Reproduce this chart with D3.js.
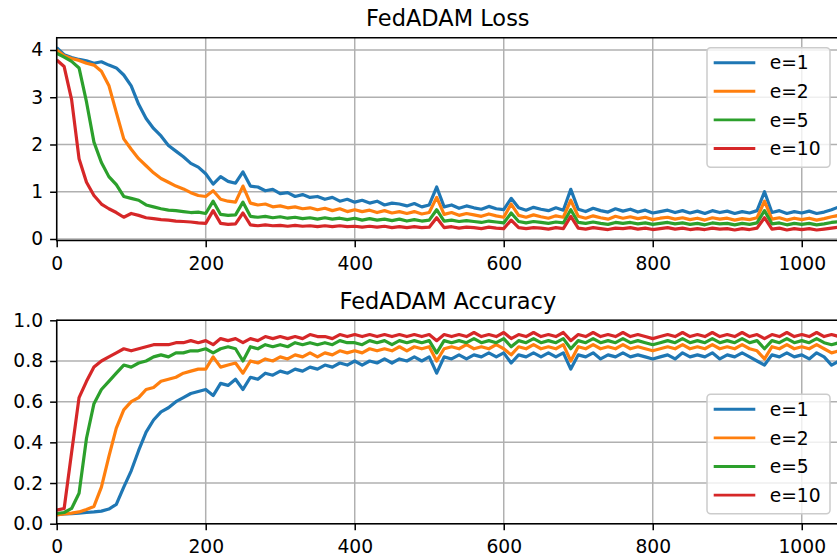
<!DOCTYPE html>
<html>
<head>
<meta charset="utf-8">
<script src="https://d3js.org/d3.v7.min.js"></script>
<style>
  body { margin: 0; background: white; }
  text { font-family: "DejaVu Sans", sans-serif; fill: black; }
</style>
</head>
<body>
<svg width="837" height="560"></svg>
<script>
// communication rounds (x)
const rounds = [0,10,20,30,40,50,60,70,80,90,
  100,110,120,130,140,150,160,170,180,190,
  200,210,220,230,240,250,260,270,280,290,
  300,310,320,330,340,350,360,370,380,390,
  400,410,420,430,440,450,460,470,480,490,
  500,510,520,530,540,550,560,570,580,590,
  600,610,620,630,640,650,660,670,680,690,
  700,710,720,730,740,750,760,770,780,790,
  800,810,820,830,840,850,860,870,880,890,
  900,910,920,930,940,950,960,970,980,990,
  1000,1010,1020,1030,1040,1050];

const seriesNames = ["e=1", "e=2", "e=5", "e=10"];
const seriesColors = ["#1f77b4", "#ff7f0e", "#2ca02c", "#d62728"];

// loss values
const lossE1 = [4.05,3.90,3.84,3.80,3.77,3.72,3.75,3.68,3.62,3.47,
  3.24,2.85,2.55,2.34,2.18,1.98,1.86,1.74,1.60,1.52,
  1.38,1.16,1.32,1.22,1.18,1.42,1.12,1.10,1.02,1.05,
  0.96,0.98,0.90,0.94,0.88,0.90,0.84,0.88,0.80,0.84,
  0.78,0.82,0.76,0.80,0.72,0.76,0.74,0.70,0.75,0.68,
  0.72,1.10,0.68,0.72,0.65,0.70,0.66,0.63,0.69,0.64,
  0.62,0.86,0.66,0.61,0.67,0.63,0.60,0.66,0.61,1.05,
  0.63,0.58,0.65,0.60,0.57,0.64,0.59,0.63,0.57,0.61,
  0.55,0.58,0.61,0.56,0.60,0.55,0.59,0.54,0.60,0.56,
  0.59,0.54,0.58,0.55,0.60,1.00,0.56,0.60,0.54,0.58,
  0.55,0.59,0.54,0.57,0.62,0.68];
const lossE2 = [4.00,3.88,3.82,3.78,3.72,3.68,3.55,3.25,2.68,2.12,
  1.90,1.70,1.55,1.40,1.28,1.20,1.12,1.06,0.98,0.92,
  0.90,1.02,0.84,0.80,0.78,1.12,0.76,0.72,0.74,0.68,
  0.70,0.66,0.68,0.64,0.66,0.62,0.65,0.60,0.64,0.58,
  0.62,0.58,0.61,0.56,0.60,0.55,0.58,0.54,0.58,0.53,
  0.56,0.88,0.52,0.56,0.50,0.54,0.51,0.48,0.53,0.49,
  0.46,0.74,0.50,0.46,0.51,0.47,0.44,0.49,0.46,0.82,
  0.48,0.44,0.49,0.45,0.42,0.48,0.44,0.47,0.43,0.46,
  0.41,0.44,0.46,0.42,0.45,0.41,0.44,0.40,0.45,0.42,
  0.44,0.40,0.43,0.41,0.45,0.80,0.42,0.45,0.40,0.44,
  0.41,0.44,0.40,0.43,0.47,0.50];
const lossE5 = [3.93,3.85,3.76,3.62,2.90,2.05,1.62,1.32,1.15,0.90,
  0.86,0.82,0.72,0.68,0.64,0.61,0.60,0.58,0.56,0.57,
  0.54,0.80,0.52,0.50,0.51,0.78,0.48,0.46,0.48,0.45,
  0.47,0.44,0.46,0.43,0.45,0.42,0.45,0.42,0.44,0.41,
  0.44,0.40,0.43,0.40,0.42,0.39,0.42,0.38,0.41,0.38,
  0.40,0.62,0.38,0.40,0.37,0.39,0.37,0.35,0.38,0.36,
  0.34,0.55,0.37,0.34,0.37,0.35,0.33,0.36,0.34,0.62,
  0.35,0.33,0.36,0.33,0.31,0.35,0.33,0.35,0.32,0.34,
  0.31,0.33,0.35,0.32,0.34,0.31,0.33,0.30,0.34,0.32,
  0.33,0.30,0.33,0.31,0.34,0.60,0.32,0.34,0.30,0.33,
  0.31,0.33,0.30,0.32,0.35,0.37];
const lossE10 = [3.79,3.65,2.95,1.70,1.20,0.92,0.74,0.64,0.56,0.46,
  0.54,0.50,0.45,0.43,0.41,0.40,0.38,0.37,0.36,0.34,
  0.33,0.60,0.33,0.31,0.32,0.55,0.30,0.28,0.30,0.28,
  0.29,0.27,0.29,0.27,0.28,0.26,0.28,0.26,0.28,0.26,
  0.27,0.25,0.27,0.25,0.27,0.24,0.26,0.24,0.26,0.24,
  0.25,0.45,0.24,0.26,0.23,0.25,0.24,0.22,0.25,0.23,
  0.22,0.40,0.24,0.22,0.24,0.23,0.21,0.24,0.22,0.48,
  0.23,0.21,0.24,0.22,0.20,0.23,0.22,0.24,0.21,0.23,
  0.20,0.22,0.24,0.21,0.23,0.20,0.22,0.20,0.23,0.21,
  0.22,0.19,0.22,0.20,0.23,0.45,0.21,0.23,0.19,0.22,
  0.20,0.22,0.19,0.21,0.23,0.25];

// accuracy values
const accE1 = [0.045,0.048,0.050,0.052,0.055,0.058,0.062,0.072,0.095,0.18,
  0.26,0.36,0.45,0.51,0.55,0.57,0.60,0.62,0.64,0.65,
  0.66,0.63,0.69,0.68,0.71,0.66,0.72,0.71,0.74,0.73,
  0.75,0.74,0.76,0.75,0.77,0.76,0.78,0.77,0.79,0.78,
  0.80,0.78,0.80,0.79,0.81,0.79,0.81,0.80,0.82,0.80,
  0.82,0.74,0.82,0.81,0.83,0.81,0.83,0.82,0.84,0.82,
  0.84,0.79,0.83,0.82,0.84,0.82,0.84,0.82,0.84,0.76,
  0.83,0.82,0.84,0.81,0.83,0.82,0.84,0.82,0.83,0.82,
  0.81,0.82,0.83,0.81,0.84,0.82,0.83,0.82,0.84,0.81,
  0.83,0.82,0.84,0.82,0.80,0.78,0.83,0.82,0.84,0.82,
  0.83,0.81,0.84,0.82,0.78,0.80];
const accE2 = [0.043,0.048,0.052,0.058,0.070,0.085,0.18,0.33,0.47,0.56,
  0.60,0.62,0.66,0.67,0.70,0.71,0.72,0.74,0.75,0.76,
  0.76,0.82,0.77,0.78,0.79,0.74,0.80,0.79,0.81,0.80,
  0.82,0.81,0.83,0.82,0.84,0.82,0.84,0.83,0.85,0.84,
  0.85,0.84,0.86,0.85,0.86,0.85,0.87,0.85,0.87,0.86,
  0.87,0.80,0.86,0.87,0.86,0.88,0.86,0.87,0.86,0.88,
  0.86,0.83,0.87,0.86,0.88,0.86,0.87,0.86,0.88,0.80,
  0.87,0.86,0.88,0.86,0.87,0.86,0.88,0.86,0.87,0.86,
  0.85,0.86,0.87,0.86,0.88,0.86,0.87,0.86,0.88,0.86,
  0.87,0.86,0.88,0.86,0.85,0.81,0.87,0.86,0.88,0.86,
  0.87,0.86,0.88,0.86,0.84,0.85];
const accE5 = [0.050,0.055,0.075,0.15,0.42,0.59,0.66,0.70,0.74,0.78,
  0.77,0.79,0.80,0.82,0.83,0.82,0.84,0.84,0.85,0.85,
  0.86,0.84,0.86,0.87,0.86,0.80,0.87,0.86,0.88,0.87,
  0.88,0.87,0.89,0.88,0.89,0.88,0.89,0.88,0.90,0.89,
  0.89,0.88,0.90,0.89,0.90,0.88,0.90,0.89,0.90,0.89,
  0.90,0.84,0.90,0.89,0.90,0.89,0.91,0.89,0.90,0.89,
  0.91,0.87,0.90,0.89,0.91,0.89,0.90,0.89,0.91,0.86,
  0.90,0.89,0.91,0.89,0.90,0.89,0.91,0.89,0.90,0.89,
  0.88,0.89,0.90,0.89,0.91,0.89,0.90,0.89,0.91,0.89,
  0.90,0.89,0.91,0.89,0.90,0.86,0.90,0.89,0.91,0.89,
  0.90,0.89,0.91,0.89,0.88,0.89];
const accE10 = [0.067,0.075,0.35,0.62,0.70,0.77,0.80,0.82,0.84,0.86,
  0.85,0.86,0.87,0.88,0.88,0.88,0.89,0.89,0.90,0.89,
  0.90,0.88,0.91,0.90,0.91,0.89,0.91,0.90,0.92,0.91,
  0.92,0.91,0.92,0.91,0.93,0.92,0.92,0.91,0.93,0.92,
  0.93,0.92,0.93,0.92,0.93,0.92,0.93,0.92,0.93,0.92,
  0.93,0.90,0.93,0.92,0.93,0.92,0.94,0.92,0.93,0.92,
  0.94,0.91,0.93,0.92,0.94,0.92,0.93,0.92,0.94,0.90,
  0.93,0.92,0.94,0.92,0.93,0.92,0.94,0.92,0.93,0.92,
  0.91,0.92,0.93,0.92,0.94,0.92,0.93,0.92,0.94,0.92,
  0.93,0.92,0.94,0.92,0.93,0.91,0.93,0.92,0.94,0.92,
  0.93,0.92,0.94,0.92,0.93,0.92];

const xTicks = [0, 200, 400, 600, 800, 1000];
const lossTicks = [0, 1, 2, 3, 4];
const accTicks = [0, 0.2, 0.4, 0.6, 0.8, 1.0];

const svg = d3.select("svg");
const x = d3.scaleLinear().domain([0, 1050]).range([56.7, 839]);

function drawPanel(id, title, series, yDomain, top, bottom, yTicks, yFmt, legendTop) {
  var y = d3.scaleLinear().domain(yDomain).range([bottom, top]);
  var left = x.range()[0], right = x.range()[1];
  var g = svg.append("g").attr("id", id);

  g.append("clipPath").attr("id", id + "_clip")
    .append("rect").attr("x", left).attr("y", top)
    .attr("width", right - left).attr("height", bottom - top);

  // grid
  g.append("g").selectAll("line").data(xTicks).enter().append("line")
    .attr("x1", d => x(d)).attr("x2", d => x(d))
    .attr("y1", top).attr("y2", bottom)
    .attr("stroke", "#b0b0b0").attr("stroke-width", 1.5);
  g.append("g").selectAll("line").data(yTicks).enter().append("line")
    .attr("x1", left).attr("x2", right)
    .attr("y1", d => y(d)).attr("y2", d => y(d))
    .attr("stroke", "#b0b0b0").attr("stroke-width", 1.5);

  // curves
  var line = d3.line().x((d, i) => x(rounds[i])).y(d => y(d));
  g.append("g").attr("clip-path", "url(#" + id + "_clip)")
    .selectAll("path").data(series).enter().append("path")
    .attr("d", d => line(d))
    .attr("fill", "none")
    .attr("stroke", (d, i) => seriesColors[i])
    .attr("stroke-width", 3.2)
    .attr("stroke-linejoin", "round");

  // axes
  var xa = g.append("g").attr("transform", "translate(0," + bottom + ")")
    .call(d3.axisBottom(x).tickValues(xTicks).tickFormat(d3.format("d"))
      .tickSize(6.6).tickSizeOuter(0).tickPadding(9.5));
  var ya = g.append("g").attr("transform", "translate(" + left + ",0)")
    .call(d3.axisLeft(y).tickValues(yTicks).tickFormat(yFmt).tickSize(6.6).tickSizeOuter(0).tickPadding(7));
  [xa, ya].forEach(function(a) {
    a.select(".domain").remove();
    a.selectAll(".tick line").attr("stroke", "black").attr("stroke-width", 1.5);
    a.selectAll(".tick text").attr("font-size", "18.7px")
      .attr("font-family", "DejaVu Sans, sans-serif");
  });

  // spines
  g.append("line").attr("x1", left).attr("x2", right).attr("y1", top).attr("y2", top)
    .attr("stroke", "black").attr("stroke-width", 1.5);
  g.append("line").attr("x1", left).attr("x2", right).attr("y1", bottom).attr("y2", bottom)
    .attr("stroke", "black").attr("stroke-width", 1.5);
  g.append("line").attr("x1", left).attr("x2", left).attr("y1", top).attr("y2", bottom)
    .attr("stroke", "black").attr("stroke-width", 1.5).attr("stroke-linecap", "square");

  g.append("text").attr("x", (left + right) / 2).attr("y", top - 11.7)
    .attr("text-anchor", "middle").attr("font-size", "22.5px").text(title);

  // legend
  var lg = g.append("g").attr("transform", "translate(707," + legendTop + ")");
  lg.append("rect").attr("width", 123).attr("height", 119.5).attr("rx", 3.7)
    .attr("fill", "white").attr("fill-opacity", 0.8)
    .attr("stroke", "#cccccc").attr("stroke-width", 1.5);
  seriesNames.forEach(function(name, i) {
    var cy = 15 + i * 28.6;
    lg.append("line").attr("x1", 6.7).attr("x2", 48.3).attr("y1", cy).attr("y2", cy)
      .attr("stroke", seriesColors[i]).attr("stroke-width", 2.9);
    lg.append("text").attr("x", 62.7).attr("y", cy + 6.8)
      .attr("font-size", "18.7px").text(name);
  });
}

drawPanel("loss", "FedADAM Loss", [lossE1, lossE2, lossE5, lossE10],
  [-0.034, 4.26], 37.7, 240.6, lossTicks, d3.format("d"), 47.7);
drawPanel("acc", "FedADAM Accuracy", [accE1, accE2, accE5, accE10],
  [0, 1], 320.3, 523.7, accTicks, d3.format(".1f"), 394.3);
</script>
</body>
</html>
